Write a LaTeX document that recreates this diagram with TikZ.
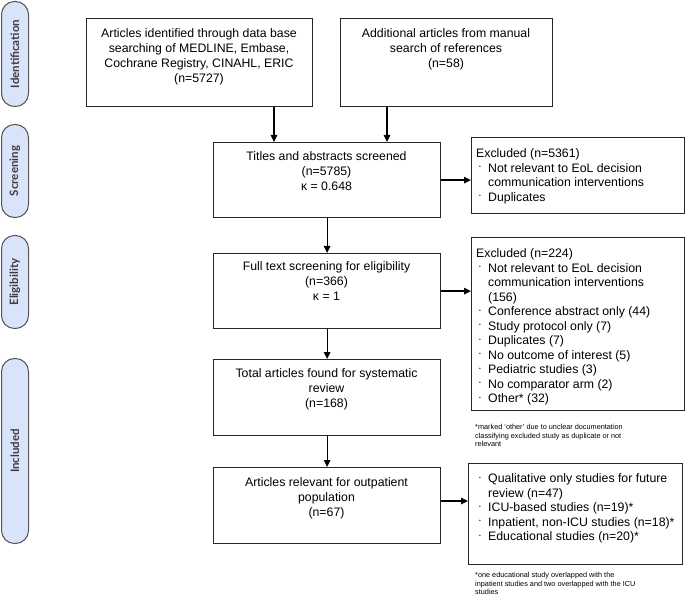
\documentclass[tikz,border=0pt]{standalone}
\usepackage{fontspec}
\setmainfont{Liberation Sans}
\newfontfamily\pillfont{Lato}
\usetikzlibrary{arrows.meta}
\definecolor{pillfill}{HTML}{D9E3FA}
\definecolor{pillline}{HTML}{555555}
\definecolor{pilltext}{HTML}{3C3C3C}
\newcommand\bl{\hspace*{3pt}\makebox[9pt][l]{\raisebox{3.5pt}{\fontsize{5}{5}\selectfont •}}}
\newcommand\cl{\hspace*{12pt}}
\begin{document}
\begin{tikzpicture}[x=1pt,y=-1pt,
  box/.style={draw=black!85, line width=1.2pt, inner sep=0pt, anchor=north west},
  txt/.style={inner sep=0pt, align=center, font=\fontsize{12.3}{15}\selectfont, anchor=north},
  ltxt/.style={inner sep=0pt, align=left, font=\fontsize{12.3}{14.5}\selectfont, anchor=north west},
  note/.style={inner sep=0pt, align=left, font=\fontsize{7.3}{8.5}\selectfont, anchor=north west},
  pill/.style={draw=pillline, fill=pillfill, line width=1pt, rounded corners=13pt, anchor=north west, inner sep=0pt, minimum width=27pt},
  plabel/.style={rotate=90, font=\pillfont\bfseries\fontsize{11.5}{12}\selectfont, text=pilltext, inner sep=0pt},
  arr/.style={-{Triangle[length=7pt,width=6.5pt]}, line width=1.2pt},
]
\useasboundingbox (0,0) rectangle (686,596);
\fill[white] (0,0) rectangle (686,596);

% phase pills
\node[pill, minimum height=105pt] (p1) at (1,1) {};
\node[plabel] (l1) at (p1.center) {Identification};
\node[pill, minimum height=93pt] (p2) at (1,124) {};
\node[plabel] (l2) at (p2.center) {Screening};
\node[pill, minimum height=93pt] (p3) at (1,235) {};
\node[plabel] (l3) at (p3.center) {Eligibility};
\node[pill, minimum height=185pt] (p4) at (1,358) {};
\node[plabel] (l4) at (p4.center) {Included};

% main boxes
\node[box, minimum width=226pt, minimum height=88pt] (b1) at (86,18) {};
\node[txt] (t1) at (199,26.9) {\strut Articles identified through data base\\searching of MEDLINE, Embase,\\Cochrane Registry, CINAHL, ERIC\\(n=5727)};
\node[box, minimum width=212pt, minimum height=88pt] (b2) at (340,18) {};
\node[txt] (t2) at (446,26.9) {\strut Additional articles from manual\\search of references\\(n=58)};
\node[box, minimum width=227pt, minimum height=75pt] (b3) at (213,142) {};
\node[txt] (t3) at (326.5,149.9) {\strut Titles and abstracts screened\\(n=5785)\\κ = 0.648};
\node[box, minimum width=227pt, minimum height=75pt] (b4) at (213,253) {};
\node[txt] (t4) at (326.5,259.9) {\strut Full text screening for eligibility\\(n=366)\\κ = 1};
\node[box, minimum width=227pt, minimum height=76pt] (b5) at (213,359) {};
\node[txt] (t5) at (326.5,366.9) {\strut Total articles found for systematic\\review\\(n=168)};
\node[box, minimum width=227pt, minimum height=76pt] (b6) at (213,467) {};
\node[txt] (t6) at (326.5,475.9) {\strut Articles relevant for outpatient\\population\\(n=67)};

% side boxes
\node[box, minimum width=213pt, minimum height=76pt] (e1) at (471,137) {};
\node[ltxt] (s1) at (476,147.2) {\strut Excluded (n=5361)\\\bl Not relevant to EoL decision\\\cl communication interventions\\\bl Duplicates};
\node[box, minimum width=213pt, minimum height=173pt] (e2) at (471,237) {};
\node[ltxt] (s2) at (476,247.2) {\strut Excluded (n=224)\\\bl Not relevant to EoL decision\\\cl communication interventions\\\cl (156)\\\bl Conference abstract only (44)\\\bl Study protocol only (7)\\\bl Duplicates (7)\\\bl No outcome of interest (5)\\\bl Pediatric studies (3)\\\bl No comparator arm (2)\\\bl Other* (32)};
\node[note] (n1) at (475,423.6) {\strut *marked `other' due to unclear documentation\\classifying excluded study as duplicate or not\\relevant};
\node[box, minimum width=214pt, minimum height=101pt] (e3) at (468,463) {};
\node[ltxt] (s3) at (476,472.2) {\strut\bl Qualitative only studies for future\\\cl review (n=47)\\\bl ICU-based studies (n=19)*\\\bl Inpatient, non-ICU studies (n=18)*\\\bl Educational studies (n=20)*};
\node[note] (n2) at (475,571.6) {\strut *one educational study overlapped with the\\inpatient studies and two overlapped with the ICU\\studies};

% connectors
\coordinate (c1) at (274,0);
\coordinate (c2) at (387,0);
\coordinate (c3) at (0,501);
\draw[arr] (b1.south -| c1) -- (b3.north -| c1);
\draw[arr] (b2.south -| c2) -- (b3.north -| c2);
\draw[arr] (b3.south) -- (b4.north);
\draw[arr] (b4.south) -- (b5.north);
\draw[arr] (b5.south) -- (b6.north);
\draw[arr] (b3.east) -- (e1.west |- b3.east);
\draw[arr] (b4.east) -- (e2.west |- b4.east);
\draw[arr] (b6.east |- c3) -- (e3.west |- c3);
\end{tikzpicture}
\end{document}
